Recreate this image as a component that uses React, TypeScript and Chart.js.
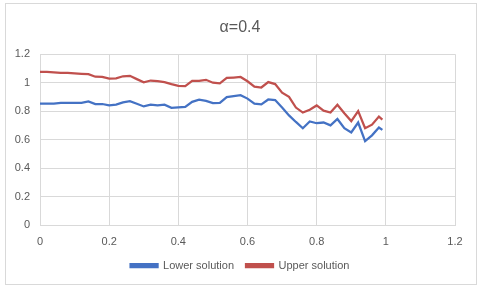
import { useEffect, useRef } from "react";
import { Chart, registerables } from "chart.js";

Chart.register(...registerables);

const chartTitle = "α=0.4";
const seriesNames = ["Lower solution", "Upper solution"];
const xValues = [
  0, 0.02, 0.04, 0.06, 0.08, 0.1, 0.12, 0.14, 0.16, 0.18,
  0.2, 0.22, 0.24, 0.26, 0.28, 0.3, 0.32, 0.34, 0.36, 0.38,
  0.4, 0.42, 0.44, 0.46, 0.48, 0.5, 0.52, 0.54, 0.56, 0.58,
  0.6, 0.62, 0.64, 0.66, 0.68, 0.7, 0.72, 0.74, 0.76, 0.78,
  0.8, 0.82, 0.84, 0.86, 0.88, 0.9, 0.92, 0.94, 0.96, 0.98, 0.99,
];
const lowerSolution = [
  0.852, 0.852, 0.852, 0.858, 0.858, 0.858, 0.858, 0.868, 0.85, 0.85,
  0.84, 0.846, 0.862, 0.87, 0.852, 0.833, 0.845, 0.84, 0.845, 0.823,
  0.826, 0.83, 0.865, 0.88, 0.872, 0.856, 0.858, 0.899, 0.905, 0.912,
  0.888, 0.852, 0.848, 0.882, 0.878, 0.825, 0.77, 0.724, 0.68, 0.727,
  0.715, 0.72, 0.7, 0.745, 0.68, 0.65, 0.72, 0.59, 0.63, 0.685, 0.668,
];
const upperSolution = [
  1.075, 1.075, 1.073, 1.068, 1.068, 1.065, 1.062, 1.06, 1.042, 1.04,
  1.028, 1.03, 1.045, 1.048, 1.025, 1.002, 1.015, 1.01, 1.004, 0.99,
  0.978, 0.975, 1.012, 1.012, 1.02, 1.0, 0.995, 1.033, 1.036, 1.04,
  1.01, 0.972, 0.966, 1.004, 0.99, 0.93, 0.9, 0.825, 0.79, 0.81,
  0.84, 0.803, 0.79, 0.845, 0.785, 0.73, 0.8, 0.68, 0.705, 0.762, 0.741,
];
const axisMin = 0;
const axisMax = 1.2;
const axisStep = 0.2;

const FONT = "'Liberation Sans', Arial, sans-serif";
const TEXT = "#595959";
const GRID = "#d9d9d9";

export default function App() {
  const ref = useRef<HTMLCanvasElement | null>(null);

  useEffect(() => {
    if (!ref.current) return;
    const fmt = (v: any) => String(Math.round(Number(v) * 10) / 10);
    const chart = new Chart(ref.current, {
      type: "scatter",
      data: {
        datasets: [
          {
            label: seriesNames[0],
            data: xValues.map((x, i) => ({ x, y: lowerSolution[i] })),
            showLine: true,
            borderColor: "#4472C4",
            backgroundColor: "#4472C4",
            borderWidth: 2.25,
            pointRadius: 0,
            tension: 0,
          },
          {
            label: seriesNames[1],
            data: xValues.map((x, i) => ({ x, y: upperSolution[i] })),
            showLine: true,
            borderColor: "#C0504D",
            backgroundColor: "#C0504D",
            borderWidth: 2.25,
            pointRadius: 0,
            tension: 0,
          },
        ],
      },
      options: {
        animation: false,
        responsive: false,
        maintainAspectRatio: false,
        layout: { padding: { left: 0, right: 0, top: 0, bottom: 8 } },
        plugins: {
          title: {
            display: true,
            text: chartTitle,
            color: TEXT,
            font: { family: FONT, size: 16, weight: "normal" },
            padding: { top: 18, bottom: 17 },
          },
          legend: {
            display: true,
            position: "bottom",
            labels: {
              color: TEXT,
              font: { family: FONT, size: 11 },
              boxWidth: 27,
              boxHeight: 3,
              padding: 12,
            },
          },
          tooltip: { enabled: false },
        },
        scales: {
          x: {
            type: "linear",
            min: axisMin,
            max: axisMax,
            ticks: {
              stepSize: axisStep,
              color: TEXT,
              font: { family: FONT, size: 11 },
              padding: 10,
              callback: fmt,
            },
            grid: { color: GRID, drawTicks: false },
            border: { color: GRID },
            afterFit: (s: any) => {
              s.height = 23;
            },
          },
          y: {
            type: "linear",
            min: axisMin,
            max: axisMax,
            ticks: {
              stepSize: axisStep,
              color: TEXT,
              font: { family: FONT, size: 11 },
              padding: 10,
              callback: fmt,
            },
            grid: { color: GRID, drawTicks: false },
            border: { color: GRID },
            afterFit: (s: any) => {
              s.width = 40;
            },
          },
          yRight: {
            type: "linear",
            position: "right",
            display: true,
            grid: { display: false, drawTicks: false },
            border: { display: false },
            ticks: { display: false },
            afterFit: (s: any) => {
              s.width = 25;
            },
          },
        },
      },
    });
    return () => chart.destroy();
  }, []);

  return (
    <div style={{ position: "fixed", left: 0, top: 0, width: 480, height: 289, background: "#fff" }}>
      <canvas ref={ref} width={480} height={289} style={{ position: "absolute", left: 0, top: 0 }} />
      <div
        style={{
          position: "absolute",
          left: 5,
          top: 3,
          width: 470,
          height: 280,
          border: "1px solid #d9d9d9",
          pointerEvents: "none",
        }}
      />
    </div>
  );
}
